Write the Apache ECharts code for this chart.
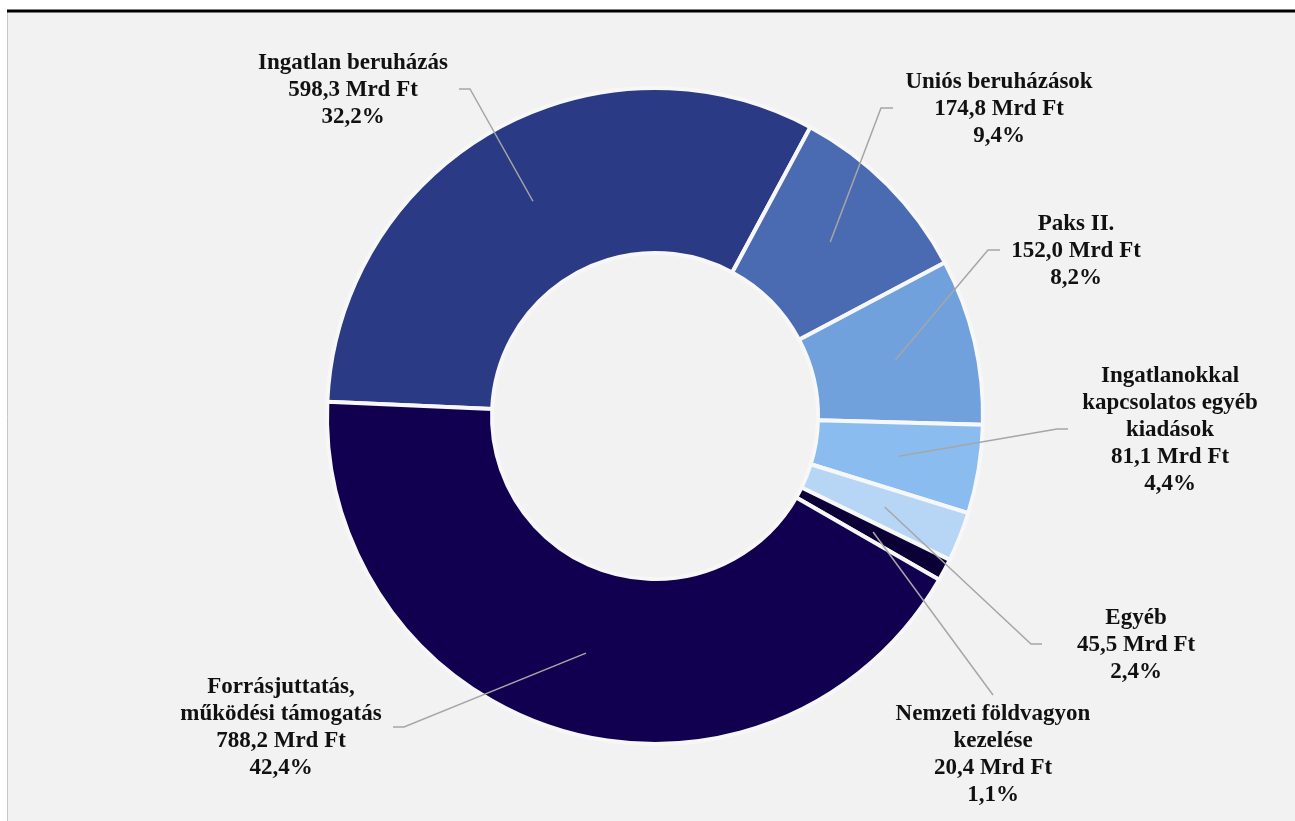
<!DOCTYPE html>
<html>
<head>
<meta charset="utf-8">
<script src="https://cdn.jsdelivr.net/npm/echarts@6/dist/echarts.min.js"></script>
<style>
html,body{margin:0;padding:0;background:#ffffff;}
#chart{width:1295px;height:821px;}
</style>
</head>
<body>
<div id="chart"></div>
<script>
// ---- data ----
const categories = [
  'Ingatlan beruházás',
  'Uniós beruházások',
  'Paks II.',
  'Ingatlanokkal\nkapcsolatos egyéb\nkiadások',
  'Egyéb',
  'Nemzeti földvagyon\nkezelése',
  'Forrásjuttatás,\nműködési támogatás'
];
const values = [598.3, 174.8, 152.0, 81.1, 45.5, 20.4, 788.2];
const unit = 'Mrd Ft';

// ---- styles / layout ----
const colors = ['#2b3a85', '#4a6bb1', '#71a1dc', '#8bbcf0', '#b7d6f6', '#0b0035', '#10004f'];
const CENTER = [655, 416];
const RADIUS = [163, 328];
const START_ANGLE = 177.5;
const LINE_R = 247;
// label centre positions
const labelPos = [[353, 90], [999, 109], [1076, 251], [1170, 430], [1136, 645], [993, 755], [281, 728]];
// leader line: bend point and end point near the label
const lineBend = [[470, 89], [881, 108], [988, 250], [1057, 429], [1031, 644], [993, 695], [404, 727]];
const lineEnd  = [[459, 89], [893, 108], [1000, 250], [1068, 429], [1042, 644], [993, 695], [393, 727]];

const total = values.reduce((a, b) => a + b, 0);
const fmt = (v) => v.toFixed(1).replace('.', ',');

function innerPoint(i) {
  let cum = 0;
  for (let k = 0; k < i; k++) cum += values[k];
  cum += values[i] / 2;
  const a = (START_ANGLE - cum / total * 360) * Math.PI / 180;
  return [CENTER[0] + LINE_R * Math.cos(a), CENTER[1] - LINE_R * Math.sin(a)];
}

const chart = echarts.init(document.getElementById('chart'));
chart.setOption({
  animation: false,
  backgroundColor: '#ffffff',
  graphic: [
    { type: 'rect', silent: true, z: -10, shape: { x: 7.5, y: 11, width: 1295, height: 815 },
      style: { fill: '#f2f2f2', stroke: '#c8c8c8', lineWidth: 1 } },
    { type: 'line', silent: true, z: -9, shape: { x1: 7, y1: 11, x2: 1295, y2: 11 },
      style: { stroke: '#000000', lineWidth: 3 } }
  ],
  series: [{
    type: 'pie',
    z: 2,
    center: CENTER,
    radius: RADIUS,
    startAngle: START_ANGLE,
    clockwise: true,
    silent: true,
    itemStyle: { borderColor: '#f7f7f7', borderWidth: 4 },
    label: { show: false },
    labelLine: { show: false },
    data: categories.map((c, i) => ({ name: c, value: values[i], itemStyle: { color: colors[i] } }))
  }, {
    // transparent overlay carrying labels and leader lines (drawn above the ring)
    type: 'pie',
    z: 5,
    center: CENTER,
    radius: [0, LINE_R],
    startAngle: START_ANGLE,
    clockwise: true,
    silent: true,
    avoidLabelOverlap: false,
    itemStyle: { color: 'rgba(0,0,0,0)', borderWidth: 0 },
    label: {
      show: true,
      position: 'outside',
      fontFamily: 'Liberation Serif',
      fontWeight: 'bold',
      fontSize: 23,
      lineHeight: 27,
      color: '#111111',
      formatter: (p) => p.name + '\n' + fmt(p.value) + ' ' + unit + '\n' + fmt(p.value / total * 100) + '%'
    },
    labelLine: { show: true, lineStyle: { color: '#a6a6a6', width: 1.5 } },
    labelLayout: (params) => {
      const i = params.dataIndex;
      return {
        x: labelPos[i][0],
        y: labelPos[i][1],
        align: 'center',
        verticalAlign: 'middle',
        labelLinePoints: [innerPoint(i), lineBend[i], lineEnd[i]]
      };
    },
    data: categories.map((c, i) => ({ name: c, value: values[i] }))
  }]
});
</script>
</body>
</html>
